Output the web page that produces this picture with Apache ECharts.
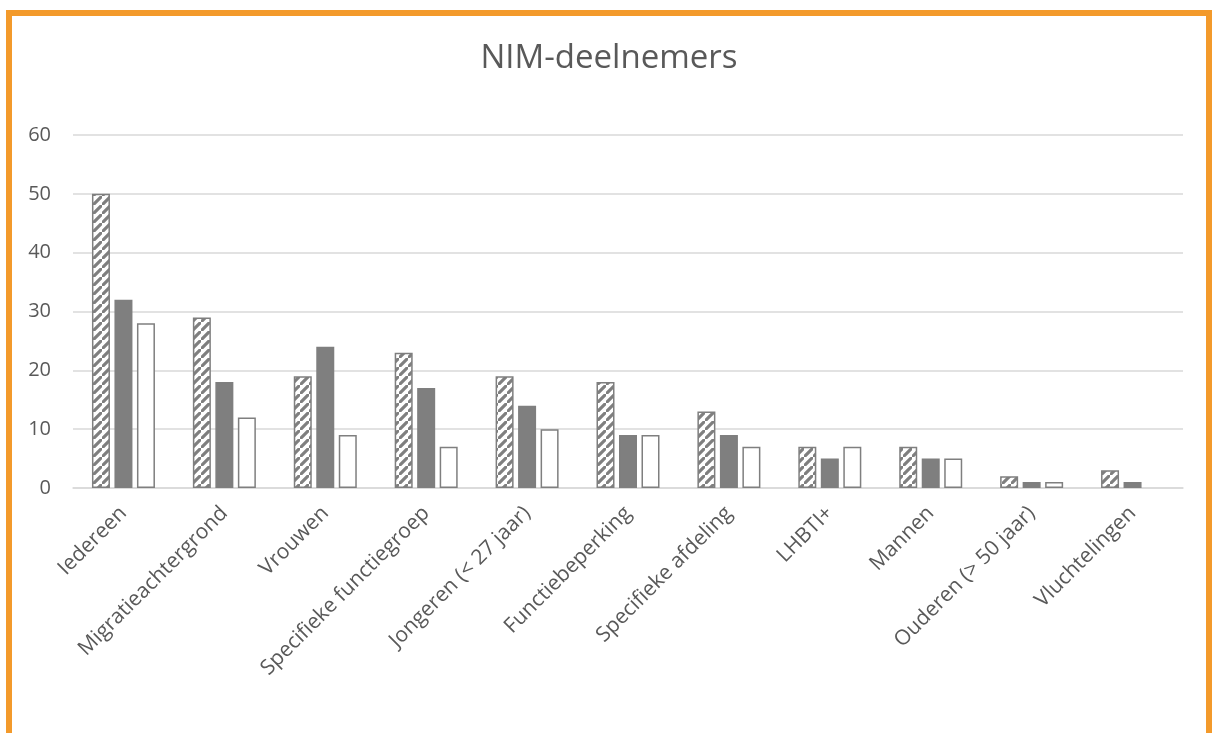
<!DOCTYPE html>
<html>
<head>
<meta charset="utf-8">
<title>NIM-deelnemers</title>
<script src="https://cdn.jsdelivr.net/npm/echarts@6/dist/echarts.min.js"></script>
<style>
  html, body { margin: 0; padding: 0; background: #fff; overflow: hidden; }
  #wrap {
    position: absolute;
    left: 6px;
    top: 10px;
    width: 1194px;
    height: 760px;
    border: 6px solid #f39a2b;
    border-bottom: none;
    background: #fff;
  }
  #chart { width: 1194px; height: 717px; }
</style>
</head>
<body>
<div id="wrap"><div id="chart"></div></div>
<script>
// categories + the three series
const categories = [
  'Iedereen', 'Migratieachtergrond', 'Vrouwen', 'Specifieke functiegroep',
  'Jongeren (< 27 jaar)', 'Functiebeperking', 'Specifieke afdeling',
  'LHBTI+', 'Mannen', 'Ouderen (> 50 jaar)', 'Vluchtelingen'
]
const reeks1 = [50, 29, 19, 23, 19, 18, 13, 7, 7, 2, 3]
const reeks2 = [32, 18, 24, 17, 14, 9, 9, 5, 5, 1, 1]
const reeks3 = [28, 12, 9, 7, 10, 9, 7, 7, 5, 1, null]
const yTicks = [0, 10, 20, 30, 40, 50, 60]

const grey = '#7f7f7f'
const textGrey = '#595959'

// diagonal stripe fill for the first series
function stripes () {
  const s = 9
  const c = document.createElement('canvas')
  c.width = s
  c.height = s
  const ctx = c.getContext('2d')
  ctx.fillStyle = '#fff'
  ctx.fillRect(0, 0, s, s)
  ctx.strokeStyle = grey
  ctx.lineWidth = 3.2
  ctx.beginPath()
  ctx.moveTo(-2, s + 2); ctx.lineTo(s + 2, -2)
  ctx.moveTo(-2 - s, 2); ctx.lineTo(2, -2 - s)
  ctx.moveTo(s - 2, 2 * s + 2); ctx.lineTo(2 * s + 2, s - 2)
  ctx.stroke()
  return c
}

const chart = echarts.init(document.getElementById('chart'))
window.onresize = () => chart.resize()

const barBase = {
  type: 'bar',
  barWidth: 18,
  barGap: '25%',
  animation: false
}

chart.setOption({
  title: {
    text: 'NIM-deelnemers',
    left: 'center',
    top: 21,
    textStyle: {
      fontFamily: 'Open Sans',
      fontSize: 33,
      fontWeight: 'normal',
      color: textGrey
    }
  },
  grid: { left: 61, right: 23, top: 119, bottom: 245, containLabel: false },
  xAxis: {
    type: 'category',
    data: categories,
    axisLine: { lineStyle: { color: '#d9d9d9', width: 1.5 } },
    axisTick: { show: false },
    axisLabel: {
      interval: 0,
      rotate: 45,
      margin: 22,
      fontFamily: 'Open Sans',
      fontSize: 21,
      color: textGrey
    }
  },
  yAxis: {
    type: 'value',
    min: yTicks[0],
    max: yTicks[yTicks.length - 1],
    interval: 10,
    axisLine: { show: false },
    axisTick: { show: false },
    splitLine: { lineStyle: { color: '#d9d9d9', width: 1.5 } },
    axisLabel: {
      margin: 22,
      fontFamily: 'Open Sans',
      fontSize: 20,
      color: textGrey
    }
  },
  series: [
    Object.assign({}, barBase, {
      name: 'Reeks 1',
      data: reeks1,
      itemStyle: {
        color: { image: stripes(), repeat: 'repeat' },
        borderColor: grey,
        borderWidth: 1.5
      }
    }),
    Object.assign({}, barBase, {
      name: 'Reeks 2',
      data: reeks2,
      itemStyle: { color: grey, borderColor: grey, borderWidth: 1.5 }
    }),
    Object.assign({}, barBase, {
      name: 'Reeks 3',
      data: reeks3,
      itemStyle: { color: '#fff', borderColor: grey, borderWidth: 1.5 }
    })
  ]
})
</script>
</body>
</html>
